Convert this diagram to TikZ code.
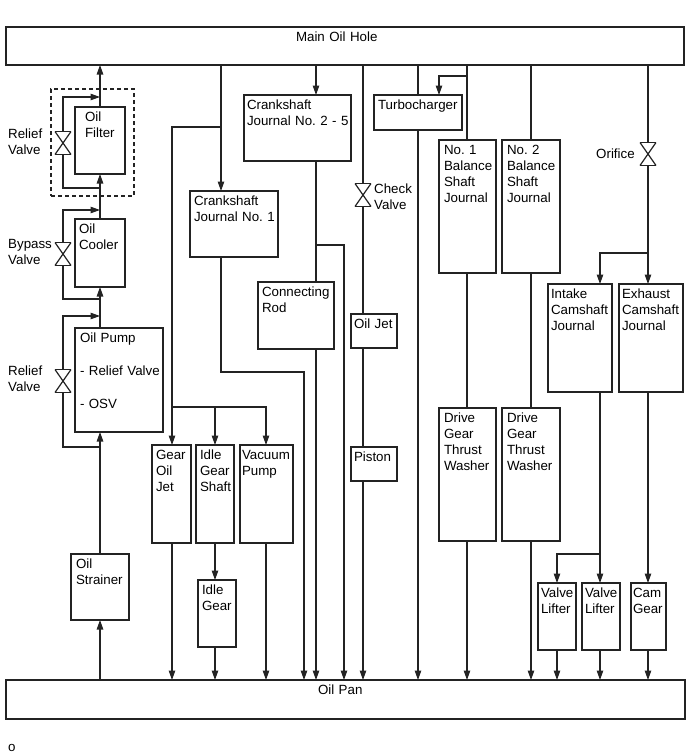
\documentclass[tikz,border=0pt]{standalone}
\usepackage{fontspec}
\setmainfont{Liberation Sans}
\usepackage{tikz}
\usetikzlibrary{arrows.meta,positioning,calc}
\definecolor{oilline}{RGB}{35,35,35}
\hyphenpenalty=10000
\frenchspacing

\begin{document}
\begin{tikzpicture}[
        x=1pt, y=-1pt,
        font=\fontsize{13.33}{16}\selectfont,
        box/.style n args={3}{rectangle, draw=oilline, line width=1.2pt, anchor=north west, outer sep=0pt, align=left, inner ysep=0pt, inner xsep=#3, text width=#1-2*#3, text height=14, text depth=#2-14},
        valve/.style={inner sep=0pt, outer sep=0pt, minimum width=16, minimum height=23,
            append after command={(\tikzlastnode.north west) edge[valveline] (\tikzlastnode.north east)
                (\tikzlastnode.north east) edge[valveline] (\tikzlastnode.south west)
                (\tikzlastnode.south west) edge[valveline] (\tikzlastnode.south east)
                (\tikzlastnode.south east) edge[valveline] (\tikzlastnode.north west)}},
        valveline/.style={-, draw=oilline, line width=1.2pt},
        dashbox/.style={rectangle, draw=oilline, line width=1.2pt, dash pattern=on 4pt off 3pt, anchor=north west, outer sep=0pt, inner sep=0pt, minimum width=83, minimum height=107},
        lbl/.style={anchor=base west, inner sep=0pt, align=left, text width=62},
        line/.style={draw=oilline, line width=1.2pt},
        arrow/.style={->, draw=oilline, line width=1.2pt, >={Triangle[length=9.5pt,width=6.5pt]}}]

    \useasboundingbox (0,0) rectangle (690,756);

    \node[box={678}{38}{290}] (main) at (6,27) {Main Oil Hole};
    \node[box={679}{39}{312}] (pan) at (6,680) {Oil Pan};

    % oil pump side
    \node[dashbox] (filterunit) at (51,89) {};
    \node[box={50}{67}{10}] (filter) at (75,107) {Oil\\Filter};
    \node[box={50}{68}{4}] (cooler) at (75,219) {Oil\\Cooler};
    \node[box={88}{104}{5}] (pump) at (75,328) {Oil Pump\\[17pt]\mbox{- Relief Valve}\\[17pt]- OSV};
    \node[box={58}{66}{5}] (strainer) at (71,554) {Oil\\Strainer};
    \node[valve] (filtervalve) at (63,143) {};
    \node[valve] (coolervalve) at (63,254) {};
    \node[valve] (pumpvalve) at (63,381) {};
    \node[lbl] (filtervalvetext) at (8,138) {Relief\\Valve};
    \node[lbl] (coolervalvetext) at (8,248) {Bypass\\Valve};
    \node[lbl] (pumpvalvetext) at (8,375) {Relief\\Valve};

    % crankshaft
    \node[box={88}{66}{4}] (jone) at (190,191) {Crankshaft\\\mbox{Journal No. 1}};
    \node[box={107}{66}{3}] (jtwo) at (244,95) {Crankshaft\\\mbox{Journal No. 2 - 5}};
    \node[box={76}{67}{4}] (rod) at (258,282) {Connecting\\Rod};
    \node[box={39}{98}{4}] (gearjet) at (152,445) {Gear\\Oil\\Jet};
    \node[box={38}{98}{4}] (idleshaft) at (196,445) {Idle\\Gear\\Shaft};
    \node[box={53}{98}{2}] (vacuum) at (240,445) {Vacuum\\Pump};
    \node[box={38}{67}{4}] (idlegear) at (198,580) {Idle\\Gear};

    % piston and turbo
    \node[valve] (checkvalve) at (363,195) {};
    \node[lbl] (checkvalvetext) at (374,193) {Check\\Valve};
    \node[box={46}{34}{3}] (oiljet) at (351,314) {Oil Jet};
    \node[box={46}{34}{3}] (piston) at (351,447) {Piston};
    \node[box={88}{35}{4}] (turbo) at (374,95) {Turbocharger};

    % balance shafts
    \node[box={57}{133}{5}] (balone) at (439,140) {No. 1\\Balance\\Shaft\\Journal};
    \node[box={58}{133}{5}] (baltwo) at (502,140) {No. 2\\Balance\\Shaft\\Journal};
    \node[box={57}{133}{5}] (gearone) at (439,408) {Drive\\Gear\\Thrust\\Washer};
    \node[box={58}{133}{5}] (geartwo) at (502,408) {Drive\\Gear\\Thrust\\Washer};

    % camshafts
    \node[valve] (orifice) at (648,154) {};
    \node[lbl] (orificetext) at (596,158) {Orifice};
    \node[box={64}{108}{3}] (intake) at (548,284) {Intake\\Camshaft\\Journal};
    \node[box={64}{108}{3}] (exhaust) at (619,284) {Exhaust\\Camshaft\\Journal};
    \node[box={38}{67}{3}] (lifterone) at (538,583) {Valve\\Lifter};
    \node[box={38}{67}{3}] (liftertwo) at (582,583) {Valve\\Lifter};
    \node[box={35}{67}{2}] (camgear) at (631,583) {Cam\\Gear};

    \node[lbl] (footnote) at (8,751) {o};

    \coordinate (filterin) at (100,188);
    \coordinate (filterout) at (100,97);
    \coordinate (coolerin) at (100,299);
    \coordinate (coolerout) at (100,210);
    \coordinate (pumpin) at (100,447);
    \coordinate (pumpout) at (100,316);
    \coordinate (jonein) at (221,191);
    \coordinate (jonetap) at (221,127);
    \coordinate (jonedrop) at (304,372);
    \coordinate (gearjoin) at (172,407);
    \coordinate (vacuumin) at (266,445);
    \coordinate (jtwoin) at (316,95);
    \coordinate (jtwotap) at (316,245);
    \coordinate (roddrop) at (344,245);
    \coordinate (checkin) at (363,314);
    \coordinate (turboin) at (439,95);
    \coordinate (turbotap) at (467,76);
    \coordinate (exhaustin) at (648,284);
    \coordinate (intaketap) at (648,253);
    \coordinate (intakein) at (600,284);
    \coordinate (liftertap) at (600,554);

    \draw[arrow] (strainer.south |- pan.north) -- (strainer.south);
    \draw[arrow] (strainer.north) -- (strainer.north |- pump.south);
    \draw[arrow] (strainer.north |- pump.north) -- (cooler.south);
    \draw[arrow] (cooler.north) -- (filter.south);
    \draw[arrow] (filter.north) -- (filter.north |- main.south);
    \draw[line] (pumpin) -| (pumpvalve.south);
    \draw[arrow] (pumpvalve.north) |- (pumpout);
    \draw[line] (coolerin) -| (coolervalve.south);
    \draw[arrow] (coolervalve.north) |- (coolerout);
    \draw[line] (filterin) -| (filtervalve.south);
    \draw[arrow] (filtervalve.north) |- (filterout);

    \draw[arrow] (jonein |- main.south) -- (jonein);
    \draw[arrow] (jonetap) -| (gearjoin |- gearjet.north);
    \draw[arrow] (gearjoin) -| (idleshaft.north);
    \draw[arrow] (gearjoin) -| (vacuumin);
    \draw[arrow] (gearjoin |- gearjet.south) -- (gearjoin |- pan.north);
    \draw[arrow] (idleshaft.south) -- (idleshaft.south |- idlegear.north);
    \draw[arrow] (idleshaft.south |- idlegear.south) -- (idleshaft.south |- pan.north);
    \draw[arrow] (vacuumin |- vacuum.south) -- (vacuumin |- pan.north);
    \draw[arrow] (jonein |- jone.south) |- (jonedrop) -- (jonedrop |- pan.north);

    \draw[arrow] (jtwoin |- main.south) -- (jtwoin);
    \draw[line] (jtwoin |- jtwo.south) -- (jtwoin |- rod.north);
    \draw[arrow] (jtwoin |- rod.south) -- (jtwoin |- pan.north);
    \draw[arrow] (jtwotap) -- (roddrop) -- (roddrop |- pan.north);

    \draw[line] (checkin |- main.south) -- (checkvalve.north);
    \draw[line] (checkvalve.south) -- (checkin);
    \draw[line] (checkin |- oiljet.south) -- (checkin |- piston.north);
    \draw[arrow] (checkin |- piston.south) -- (checkin |- pan.north);

    \draw[line] (turbo.north |- main.south) -- (turbo.north);
    \draw[arrow] (turbo.south) -- (turbo.south |- pan.north);
    \draw[arrow] (turbotap) -| (turboin);

    \draw[line] (turbotap |- main.south) -- (turbotap |- balone.north);
    \draw[line] (turbotap |- balone.south) -- (turbotap |- gearone.north);
    \draw[arrow] (turbotap |- gearone.south) -- (turbotap |- pan.north);
    \draw[line] (baltwo.north |- main.south) -- (baltwo.north);
    \draw[line] (baltwo.south) -- (geartwo.north);
    \draw[arrow] (geartwo.south) -- (geartwo.south |- pan.north);

    \draw[line] (exhaustin |- main.south) -- (orifice.north);
    \draw[arrow] (orifice.south) -- (exhaustin);
    \draw[arrow] (intaketap) -| (intakein);
    \draw[arrow] (intakein |- intake.south) -- (intakein |- liftertwo.north);
    \draw[arrow] (liftertap) -| (lifterone.north);
    \draw[arrow] (intakein |- liftertwo.south) -- (intakein |- pan.north);
    \draw[arrow] (lifterone.south) -- (lifterone.south |- pan.north);
    \draw[arrow] (exhaustin |- exhaust.south) -- (exhaustin |- camgear.north);
    \draw[arrow] (exhaustin |- camgear.south) -- (exhaustin |- pan.north);

\end{tikzpicture}
\end{document}
